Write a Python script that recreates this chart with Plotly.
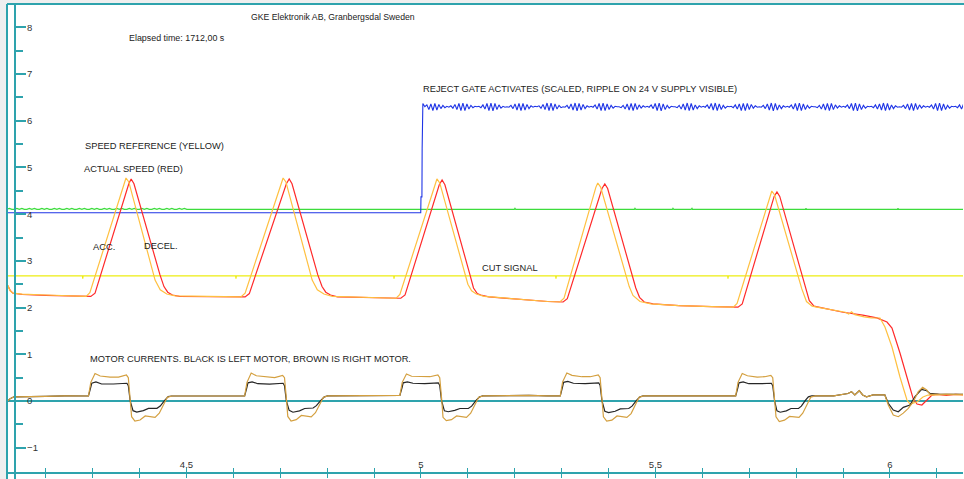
import plotly.graph_objects as go

# ---------------- data (time in s, values in scope units) ----------------
CUT_T = [4.117, 4.2783, 4.2788, 4.2795, 4.6050, 4.6055, 4.6062, 4.9420, 4.9425, 4.9432,
         5.2873, 5.2878, 5.2885, 5.6541, 5.6546, 5.6553, 6.157]
CUT_V = [2.68, 2.68, 2.62, 2.68, 2.68, 2.62, 2.68, 2.68, 2.62, 2.68,
         2.68, 2.62, 2.68, 2.68, 2.62, 2.68, 2.68]

GREEN_LEFT_T0 = 4.117
GREEN_LEFT_DT = 0.00533
GREEN_LEFT_V = [4.105, 4.125, 4.105, 4.105, 4.125, 4.105, 4.125, 4.105, 4.105, 4.125,
                4.105, 4.125, 4.105, 4.105, 4.125, 4.105, 4.125, 4.105, 4.105, 4.125,
                4.105, 4.125, 4.105, 4.105, 4.125, 4.105, 4.125, 4.105, 4.105, 4.125,
                4.105, 4.125, 4.105, 4.105, 4.125, 4.105, 4.125, 4.105, 4.105, 4.125,
                4.105, 4.125, 4.105, 4.105, 4.125, 4.105, 4.125, 4.105, 4.105, 4.125,
                4.105, 4.125, 4.105, 4.105, 4.125, 4.105, 4.125, 4.105, 4.105, 4.125,
                4.105, 4.125, 4.105, 4.105, 4.125, 4.105, 4.125, 4.105, 4.105, 4.125,
                4.105, 4.125, 4.105, 4.105, 4.105]
GREEN_RIGHT_T = [4.55, 5.199, 5.2004, 5.202, 5.455, 5.4563, 5.458, 5.536, 5.5373, 5.539,
                 5.576, 5.5778, 5.579, 5.820, 5.8209, 5.822, 6.016, 6.0171, 6.018, 6.157]
GREEN_RIGHT_V = [4.105, 4.105, 4.125, 4.105, 4.105, 4.125, 4.105, 4.105, 4.125, 4.105,
                 4.105, 4.125, 4.105, 4.105, 4.125, 4.105, 4.105, 4.125, 4.105, 4.105]

GATE_STEP_T = [4.117, 4.9995, 5.0000, 5.0020, 5.0025, 5.0035]
GATE_STEP_V = [4.03, 4.03, 4.37, 4.37, 5.40, 6.32]
GATE_RIPPLE_T0 = 5.0040
GATE_RIPPLE_DT = 0.00427
GATE_RIPPLE_V = [
    6.37, 6.30, 6.34, 6.24, 6.36, 6.22, 6.37, 6.23, 6.35, 6.26, 6.33, 6.28, 6.31, 6.29,
    6.32, 6.27, 6.35, 6.24, 6.37, 6.22, 6.38, 6.22, 6.36, 6.25, 6.33, 6.28, 6.31, 6.30,
    6.31, 6.28, 6.34, 6.25, 6.37, 6.22, 6.38, 6.21, 6.37, 6.24, 6.34, 6.27, 6.31, 6.29,
    6.30, 6.29, 6.33, 6.26, 6.36, 6.23, 6.37, 6.22, 6.37, 6.23, 6.35, 6.26, 6.32, 6.29,
    6.31, 6.30, 6.32, 6.27, 6.35, 6.24, 6.38, 6.22, 6.38, 6.22, 6.36, 6.25, 6.33, 6.28,
    6.30, 6.29, 6.33, 6.26, 6.36, 6.23, 6.38, 6.21, 6.37, 6.23, 6.35, 6.26, 6.32, 6.29,
    6.31, 6.29, 6.34, 6.25, 6.37, 6.22, 6.38, 6.22, 6.36, 6.24, 6.33, 6.27, 6.31, 6.30,
    6.30, 6.28, 6.33, 6.25, 6.36, 6.23, 6.37, 6.22, 6.37, 6.24, 6.34, 6.27, 6.32, 6.29,
    6.31, 6.29, 6.34, 6.26, 6.37, 6.22, 6.38, 6.21, 6.36, 6.24, 6.33, 6.27, 6.31, 6.30,
    6.30, 6.28, 6.33, 6.25, 6.36, 6.23, 6.38, 6.22, 6.37, 6.23, 6.34, 6.26, 6.32, 6.29,
    6.31, 6.29, 6.34, 6.26, 6.37, 6.23, 6.38, 6.22, 6.36, 6.24, 6.33, 6.27, 6.31, 6.30,
    6.31, 6.28, 6.34, 6.25, 6.36, 6.22, 6.37, 6.22, 6.37, 6.24, 6.35, 6.27, 6.32, 6.29,
    6.30, 6.29, 6.33, 6.26, 6.36, 6.23, 6.38, 6.21, 6.37, 6.23, 6.34, 6.26, 6.32, 6.29,
    6.31, 6.29, 6.34, 6.25, 6.37, 6.22, 6.38, 6.22, 6.36, 6.24, 6.33, 6.27, 6.31, 6.30,
    6.30, 6.28, 6.33, 6.25, 6.36, 6.23, 6.37, 6.22, 6.37, 6.24, 6.34, 6.27, 6.32, 6.29,
    6.31, 6.29, 6.34, 6.26, 6.37, 6.22, 6.38, 6.21, 6.36, 6.24, 6.33, 6.27, 6.31, 6.30,
    6.31, 6.28, 6.34, 6.25, 6.36, 6.23, 6.38, 6.22, 6.37, 6.23, 6.34, 6.26, 6.32, 6.29,
    6.30, 6.29, 6.33, 6.26, 6.36, 6.23, 6.37, 6.22, 6.37, 6.24, 6.34, 6.27, 6.32, 6.29,
    6.31, 6.29, 6.34, 6.25, 6.37, 6.22, 6.38, 6.22, 6.36, 6.24, 6.33, 6.27, 6.31, 6.30,
    6.31, 6.28, 6.34, 6.25, 6.36, 6.23, 6.38, 6.22, 6.37, 6.23, 6.34, 6.26, 6.32, 6.29,
]

# speed reference (orange/yellow curve)
REF_T = [4.119, 4.124, 4.130, 4.150, 4.200, 4.250,
         4.286, 4.294, 4.367, 4.371, 4.377, 4.433, 4.444, 4.458, 4.476, 4.550, 4.600,
         4.616, 4.625, 4.702, 4.706, 4.712, 4.768, 4.779, 4.793, 4.811, 4.880, 4.930,
         4.947, 4.955, 5.030, 5.034, 5.040, 5.094, 5.100, 5.108, 5.118, 5.135, 5.180, 5.230, 5.270,
         5.296, 5.305, 5.373, 5.377, 5.383, 5.437, 5.444, 5.452, 5.467, 5.490, 5.550, 5.620, 5.660,
         5.666, 5.674, 5.744, 5.748, 5.754, 5.804, 5.812, 5.822, 5.834, 5.850,
         5.880, 5.905, 5.912, 5.918, 5.925, 5.932, 5.945, 5.960, 5.9787, 5.9893, 6.0043,
         6.0213, 6.0362, 6.0426, 6.0576, 6.0704, 6.081, 6.100, 6.120, 6.157]
REF_V = [2.48, 2.36, 2.31, 2.29, 2.27, 2.26,
         2.24, 2.32, 4.69, 4.775, 4.69, 2.59, 2.38, 2.29, 2.25, 2.24, 2.23,
         2.23, 2.31, 4.69, 4.775, 4.69, 2.59, 2.38, 2.29, 2.24, 2.22, 2.21,
         2.20, 2.28, 4.67, 4.754, 4.67, 2.70, 2.50, 2.36, 2.29, 2.24, 2.20, 2.16, 2.13,
         2.12, 2.20, 4.58, 4.668, 4.58, 2.70, 2.45, 2.26, 2.13, 2.08, 2.04, 2.02, 2.01,
         2.01, 2.09, 4.41, 4.497, 4.41, 2.70, 2.40, 2.13, 2.03, 2.00,
         1.95, 1.90, 1.86, 1.91, 1.85, 1.83, 1.80, 1.78, 1.777, 1.585, 1.156,
         0.514, 0.021, -0.064, -0.021, 0.086, 0.128, 0.13, 0.14, 0.13]

# actual speed (red curve)
ACT_T = [4.119, 4.124, 4.130, 4.150, 4.200, 4.250, 4.280,
         4.296, 4.305, 4.377, 4.382, 4.388, 4.4435, 4.452, 4.460, 4.470, 4.485, 4.550, 4.600,
         4.625, 4.634, 4.713, 4.719, 4.725, 4.780, 4.789, 4.797, 4.807, 4.822, 4.880, 4.930,
         4.957, 4.966, 5.039, 5.045, 5.051, 5.1045, 5.112, 5.120, 5.130, 5.145, 5.180, 5.230, 5.270,
         5.303, 5.312, 5.386, 5.392, 5.398, 5.450, 5.458, 5.466, 5.476, 5.495, 5.550, 5.620, 5.660,
         5.676, 5.685, 5.753, 5.759, 5.765, 5.8124, 5.820, 5.828, 5.838, 5.855,
         5.900, 5.942, 5.972, 5.9936, 6.0043, 6.0213, 6.0426, 6.049, 6.0576, 6.068, 6.0789,
         6.0896, 6.100, 6.120, 6.140, 6.157]
ACT_V = [2.47, 2.37, 2.31, 2.28, 2.26, 2.25, 2.24,
         2.24, 2.31, 4.65, 4.754, 4.65, 2.70, 2.45, 2.33, 2.27, 2.24, 2.24, 2.23,
         2.23, 2.30, 4.65, 4.754, 4.65, 2.70, 2.45, 2.33, 2.27, 2.23, 2.22, 2.21,
         2.20, 2.27, 4.63, 4.732, 4.63, 2.70, 2.42, 2.30, 2.26, 2.23, 2.20, 2.16, 2.13,
         2.12, 2.19, 4.55, 4.647, 4.55, 2.70, 2.42, 2.22, 2.12, 2.08, 2.04, 2.02, 2.01,
         2.01, 2.08, 4.38, 4.475, 4.38, 2.70, 2.42, 2.15, 2.03, 1.99,
         1.90, 1.84, 1.78, 1.69, 1.563, 1.028, 0.30, 0.064, -0.064, -0.086, 0.021,
         0.128, 0.14, 0.12, 0.14, 0.13]

# right motor current (brown)
BROWN_T = [4.119, 4.124, 4.132, 4.160, 4.200, 4.240, 4.270,
           4.291, 4.296, 4.305, 4.316, 4.337, 4.355, 4.372, 4.376, 4.380, 4.383, 4.390, 4.401, 4.412, 4.422, 4.433, 4.442, 4.451, 4.459, 4.469,
           4.520, 4.570, 4.600,
           4.624, 4.629, 4.638, 4.649, 4.670, 4.688, 4.705, 4.709, 4.713, 4.716, 4.723, 4.734, 4.745, 4.755, 4.766, 4.775, 4.784, 4.792, 4.802,
           4.850, 4.900, 4.940,
           4.955, 4.960, 4.969, 4.980, 5.001, 5.019, 5.036, 5.040, 5.044, 5.047, 5.054, 5.065, 5.076, 5.086, 5.097, 5.106, 5.115, 5.123, 5.133,
           5.180, 5.230, 5.270,
           5.297, 5.302, 5.311, 5.322, 5.343, 5.361, 5.378, 5.382, 5.386, 5.389, 5.396, 5.407, 5.418, 5.428, 5.439, 5.448, 5.457, 5.465, 5.475,
           5.520, 5.580, 5.600, 5.650,
           5.671, 5.676, 5.685, 5.696, 5.717, 5.733, 5.746, 5.750, 5.754, 5.757, 5.764, 5.775, 5.786, 5.796, 5.806, 5.814, 5.823, 5.831, 5.841,
           5.880, 5.9105, 5.918, 5.925, 5.9345, 5.9418, 5.950, 5.964, 5.989, 5.9964, 6.007, 6.0177, 6.0284,
           6.039, 6.0497, 6.0604, 6.0697, 6.0783, 6.0853, 6.1066, 6.157]
BROWN_V = [0.00, 0.05, 0.09, 0.10, 0.10, 0.11, 0.10,
           0.107, 0.40, 0.59, 0.535, 0.51, 0.51, 0.556, 0.50, 0.05, -0.336, -0.428, -0.407, -0.32, -0.336, -0.35, -0.26, -0.086, 0.079, 0.107,
           0.11, 0.10, 0.11,
           0.11, 0.40, 0.60, 0.54, 0.51, 0.50, 0.55, 0.50, 0.05, -0.33, -0.43, -0.40, -0.31, -0.33, -0.34, -0.25, -0.08, 0.08, 0.11,
           0.11, 0.11, 0.12,
           0.12, 0.40, 0.58, 0.53, 0.52, 0.52, 0.56, 0.50, 0.05, -0.35, -0.42, -0.40, -0.32, -0.33, -0.35, -0.26, -0.09, 0.08, 0.11,
           0.12, 0.12, 0.11,
           0.11, 0.41, 0.60, 0.55, 0.52, 0.52, 0.56, 0.50, 0.05, -0.34, -0.43, -0.41, -0.32, -0.34, -0.35, -0.27, -0.09, 0.08, 0.11,
           0.11, 0.12, 0.11, 0.11,
           0.11, 0.40, 0.59, 0.54, 0.51, 0.52, 0.55, 0.50, 0.05, -0.34, -0.44, -0.41, -0.33, -0.34, -0.35, -0.26, -0.09, 0.08, 0.11,
           0.11, 0.16, 0.20, 0.13, 0.22, 0.13, 0.09, 0.13, 0.13, -0.086, -0.30, -0.336, -0.26,
           -0.157, -0.014, 0.20, 0.293, 0.236, 0.143, 0.14, 0.14]

# left motor current (black)
BLACK_T = [4.119, 4.124, 4.132, 4.160, 4.200, 4.240, 4.270,
           4.291, 4.296, 4.298, 4.307, 4.319, 4.344, 4.373, 4.376, 4.380, 4.386, 4.394, 4.408, 4.419, 4.437, 4.444, 4.454, 4.461, 4.468,
           4.520, 4.570, 4.600,
           4.624, 4.629, 4.631, 4.640, 4.652, 4.677, 4.706, 4.709, 4.713, 4.719, 4.727, 4.741, 4.752, 4.770, 4.777, 4.787, 4.794, 4.801,
           4.850, 4.900, 4.940,
           4.955, 4.960, 4.962, 4.971, 4.983, 5.008, 5.037, 5.040, 5.044, 5.050, 5.058, 5.072, 5.083, 5.101, 5.108, 5.118, 5.125, 5.132,
           5.180, 5.230, 5.270,
           5.297, 5.302, 5.304, 5.313, 5.325, 5.350, 5.379, 5.382, 5.386, 5.392, 5.400, 5.414, 5.425, 5.443, 5.450, 5.460, 5.467, 5.474,
           5.520, 5.580, 5.600, 5.650,
           5.671, 5.676, 5.678, 5.687, 5.699, 5.724, 5.747, 5.750, 5.754, 5.759, 5.766, 5.779, 5.789, 5.805, 5.811, 5.820, 5.826, 5.833,
           5.880, 5.9105, 5.918, 5.925, 5.9345, 5.9418, 5.950, 5.964, 5.989, 5.9964, 6.007, 6.0177, 6.0284,
           6.0426, 6.0533, 6.0676, 6.0783, 6.0853, 6.1066, 6.157]
BLACK_V = [0.00, 0.05, 0.09, 0.10, 0.10, 0.11, 0.10,
           0.107, 0.30, 0.38, 0.407, 0.364, 0.364, 0.38, 0.33, 0.00, -0.207, -0.236, -0.207, -0.157, -0.157, -0.107, 0.021, 0.093, 0.107,
           0.11, 0.10, 0.11,
           0.11, 0.30, 0.39, 0.41, 0.37, 0.36, 0.38, 0.33, 0.00, -0.20, -0.24, -0.21, -0.16, -0.15, -0.10, 0.02, 0.09, 0.11,
           0.11, 0.11, 0.12,
           0.12, 0.30, 0.39, 0.41, 0.38, 0.37, 0.39, 0.33, 0.00, -0.21, -0.23, -0.20, -0.16, -0.16, -0.11, 0.02, 0.09, 0.11,
           0.12, 0.12, 0.11,
           0.11, 0.31, 0.40, 0.42, 0.38, 0.37, 0.39, 0.33, 0.00, -0.22, -0.25, -0.22, -0.17, -0.16, -0.11, 0.02, 0.09, 0.11,
           0.11, 0.12, 0.11, 0.11,
           0.11, 0.30, 0.39, 0.41, 0.37, 0.37, 0.38, 0.33, 0.00, -0.21, -0.24, -0.21, -0.16, -0.16, -0.11, 0.02, 0.09, 0.11,
           0.11, 0.16, 0.20, 0.13, 0.22, 0.13, 0.09, 0.13, 0.13, -0.05, -0.193, -0.229, -0.136,
           -0.086, 0.093, 0.25, 0.22, 0.164, 0.14, 0.14]

X_RANGE = [4.1173, 6.1557]
Y_RANGE = [-1.52, 8.5]

NOTES = [
    ("GKE Elektronik AB, Granbergsdal Sweden", 4.6354, 8.216, 8.7),
    ("Elapsed time: 1712,00 s", 4.3753, 7.773, 8.9),
    ("REJECT GATE ACTIVATES (SCALED, RIPPLE ON 24 V SUPPLY VISIBLE)", 5.0028, 6.681, 9.3),
    ("SPEED REFERENCE (YELLOW)", 4.2815, 5.460, 9.3),
    ("ACTUAL SPEED (RED)", 4.2787, 4.961, 9.3),
    ("ACC.", 4.2979, 3.308, 9.3),
    ("DECEL.", 4.4066, 3.319, 9.3),
    ("CUT SIGNAL", 5.1280, 2.854, 9.3),
    ("MOTOR CURRENTS. BLACK IS LEFT MOTOR, BROWN IS RIGHT MOTOR.", 4.2927, 0.899, 9.3),
]

# ---------------- styling ----------------
TEAL = "#2ea3ad"
FONT = "Liberation Sans, Arial, sans-serif"

green_t = [GREEN_LEFT_T0 + i * GREEN_LEFT_DT for i in range(len(GREEN_LEFT_V))] + GREEN_RIGHT_T
green_v = GREEN_LEFT_V + GREEN_RIGHT_V
gate_t = GATE_STEP_T + [GATE_RIPPLE_T0 + i * GATE_RIPPLE_DT for i in range(len(GATE_RIPPLE_V))]
gate_v = GATE_STEP_V + GATE_RIPPLE_V

fig = go.Figure()


def line(x, y, color, width=1.2, xaxis="x"):
    fig.add_trace(go.Scatter(x=x, y=y, mode="lines", line=dict(color=color, width=width),
                             hoverinfo="skip", showlegend=False, xaxis=xaxis))


line(CUT_T, CUT_V, "#eded12")
line(green_t, green_v, "#3cdc3c")
line(gate_t, gate_v, "#1f35e6", width=1.1)
line(ACT_T, ACT_V, "#ff2a2a")
line(REF_T, REF_V, "#ffc040")
line(BLACK_T, BLACK_V, "#262626")
line(BROWN_T, BROWN_V, "#d4a040")
fig.add_trace(go.Scatter(x=[], y=[], xaxis="x2", yaxis="y", showlegend=False, hoverinfo="skip"))

for text, tx, ty, size in NOTES:
    fig.add_annotation(x=tx, y=ty, xref="x", yref="y", text=text, showarrow=False,
                       xanchor="left", yanchor="middle", borderpad=0,
                       font=dict(family=FONT, size=size, color="#222222"))

GRAY = "#efefef"
PLOT_W, PLOT_H = 956, 468
fig.update_layout(
    width=964, height=479,
    margin=dict(l=7, r=1, t=4, b=7, pad=0),
    paper_bgcolor="white", plot_bgcolor="white",
    showlegend=False,
    separators=".,",
    xaxis=dict(range=X_RANGE, showgrid=False, zeroline=False,
               showline=True, linecolor=TEAL, linewidth=2, mirror=True,
               tick0=4.5, dtick=0.5, ticks="outside", ticklen=4, tickwidth=1, tickcolor=TEAL,
               minor=dict(tick0=4.2, dtick=0.1, ticks="outside", ticklen=4, tickwidth=1, tickcolor=TEAL),
               ticklabelposition="inside", ticklabelstandoff=1,
               tickfont=dict(family=FONT, size=9.5, color="#333333")),
    xaxis2=dict(overlaying="x", matches="x", anchor="y", side="bottom",
                showgrid=False, zeroline=False, showline=False, showticklabels=False,
                tick0=4.2, dtick=0.1, ticks="inside", ticklen=4, tickwidth=1, tickcolor=TEAL),
    yaxis=dict(range=Y_RANGE, anchor="free", position=8 / PLOT_W, side="left",
               showgrid=False, showline=True, linecolor=TEAL, linewidth=2,
               zeroline=True, zerolinecolor=TEAL, zerolinewidth=1.5,
               tick0=0, dtick=1, ticks="inside", ticklen=10, tickwidth=2, tickcolor=TEAL,
               minor=dict(tick0=0, dtick=0.5, ticks="inside", ticklen=7, tickwidth=2, tickcolor=TEAL),
               ticklabelposition="inside",
               tickfont=dict(family=FONT, size=9.5, color="#333333")),
    shapes=[
        dict(type="rect", xref="paper", yref="paper", x0=-8 / PLOT_W, x1=0, y0=-0.03, y1=1.02,
             fillcolor=GRAY, line=dict(width=0), layer="above"),
        dict(type="rect", xref="paper", yref="paper", x0=-0.01, x1=1.01, y0=1, y1=1.02,
             fillcolor=GRAY, line=dict(width=0), layer="above"),
        dict(type="line", xref="paper", yref="paper", x0=0, x1=0, y0=-0.03, y1=1,
             line=dict(color=TEAL, width=2), layer="above"),
        dict(type="line", xref="paper", yref="paper", x0=0, x1=1.01, y0=1, y1=1,
             line=dict(color=TEAL, width=2), layer="above"),
        dict(type="line", xref="paper", yref="paper", x0=8 / PLOT_W, x1=8 / PLOT_W, y0=-0.03, y1=0,
             line=dict(color=TEAL, width=2), layer="above"),
    ],
)

fig.write_html("out.html")
